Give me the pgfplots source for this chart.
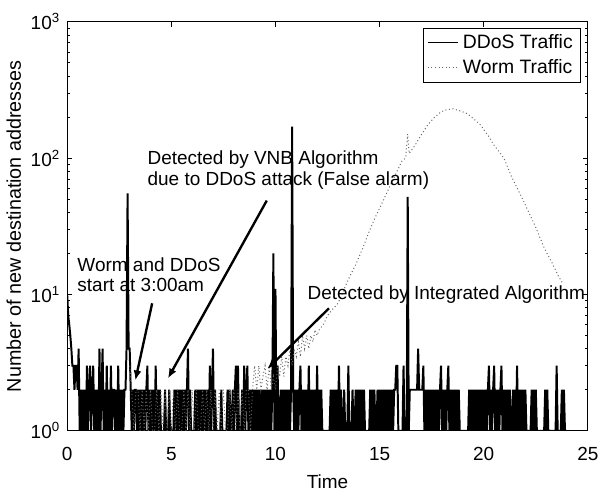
\documentclass[border=0pt]{standalone}
\usepackage{fontspec}
\setmainfont{Liberation Sans}
\usepackage{pgfplots}
\pgfplotsset{compat=1.18}
\usetikzlibrary{arrows.meta, calc}

\newcommand{\lbl}{\fontsize{9.6pt}{11pt}\selectfont}

\begin{document}
\begin{tikzpicture}
\begin{axis}[
  name=ax,
  scale only axis,
  width=263.5pt, height=207pt,
  ymode=log,
  xmin=0, xmax=25, ymin=1, ymax=1000,
  xtick={0,5,10,15,20,25},
  xticklabels={0,5,10,15,20,25},
  ytick={1,10,100,1000},
  yticklabels={10\textsuperscript{0},10\textsuperscript{1},10\textsuperscript{2},10\textsuperscript{3}},
  minor ytick={2,3,4,5,6,7,8,9,20,30,40,50,60,70,80,90,200,300,400,500,600,700,800,900},
  tick align=inside,
  major tick length=2.5pt,
  minor tick length=1.5pt,
  every tick/.append style={black, line width=0.4pt},
  axis line style={line width=0.5pt},
  tick label style={font=\lbl},
  xticklabel style={yshift=-5pt},
  label style={font=\lbl},
  xlabel={Time},
  ylabel={Number of new destination addresses},
  ylabel style={font=\fontsize{10pt}{12pt}\selectfont},
  ylabel shift=-2pt,
  legend style={at={(rel axis cs:0.987,0.985)}, anchor=north east,
    draw=black, line width=0.5pt, font=\fontsize{9.8pt}{11pt}\selectfont, inner xsep=2pt, inner ysep=1pt},
  legend cell align=left,
  legend image code/.code={\draw[#1, line width=0.5pt] (0pt,0pt) -- (15.5pt,0pt);},
]

% DDoS traffic
\addplot[black, line width=1pt] coordinates {
(0,10) (0.05,7) (0.1,6) (0.15,5) (0.2,4) (0.25,3) (0.3,3) (0.35,2) (0.4,3) (0.45,3)
(0.5,2) (0.55,4) (0.6,1) (0.65,2) (0.7,1) (0.75,2) (0.8,1) (0.85,2) (0.9,1) (0.95,3)
(1,1) (1.05,2) (1.1,3) (1.15,1) (1.2,2) (1.25,3) (1.3,1) (1.35,2) (1.4,1) (1.45,2)
(1.5,1) (1.55,4) (1.6,1) (1.65,2) (1.7,4) (1.75,1) (1.8,2) (1.85,1) (1.9,3) (1.95,1)
(2,2) (2.05,1) (2.1,3) (2.15,1) (2.2,2) (2.25,2) (2.3,1) (2.35,2) (2.4,1) (2.45,3)
(2.5,1) (2.55,2) (2.6,1) (2.65,2) (2.7,1) (2.75,2) (2.8,2) (2.85,4) (2.9,55) (2.95,4)
(3,4) (3.05,2) (3.1,1) (3.15,2) (3.2,1) (3.25,2) (3.3,2) (3.35,1) (3.4,2) (3.45,1)
(3.5,2) (3.55,1) (3.6,2) (3.65,1) (3.7,2) (3.75,1) (3.8,2) (3.85,3) (3.9,1) (3.95,2)
(4,1) (4.05,2) (4.1,1) (4.15,2) (4.2,1) (4.25,3) (4.3,1) (4.35,2) (4.4,1) (4.45,2)
(4.5,1) (4.55,1) (4.6,1) (4.65,1) (4.7,2) (4.75,1) (4.8,1) (4.85,1) (4.9,2) (4.95,1)
(5,1) (5.05,1) (5.1,1) (5.15,2) (5.2,1) (5.25,2) (5.3,1) (5.35,2) (5.4,1) (5.45,2)
(5.5,1) (5.55,2) (5.6,1) (5.65,2) (5.7,1) (5.75,2) (5.8,4) (5.85,1) (5.9,2) (5.95,1)
(6,1) (6.05,1) (6.1,1) (6.15,2) (6.2,1) (6.25,2) (6.3,1) (6.35,2) (6.4,1) (6.45,2)
(6.5,1) (6.55,2) (6.6,1) (6.65,2) (6.7,1) (6.75,2) (6.8,1) (6.85,3) (6.9,1) (6.95,2)
(7,4) (7.05,1) (7.1,2) (7.15,1) (7.2,1) (7.25,1) (7.3,1) (7.35,1) (7.4,2) (7.45,1)
(7.5,1) (7.55,1) (7.6,1) (7.65,1) (7.7,2) (7.75,1) (7.8,2) (7.85,1) (7.9,1) (7.95,2)
(8,1) (8.05,2) (8.1,3) (8.15,1) (8.2,3) (8.25,1) (8.3,1) (8.35,1) (8.4,2) (8.45,1)
(8.5,3) (8.55,1) (8.6,2) (8.65,3) (8.7,1) (8.75,2) (8.8,1) (8.85,2) (8.9,1) (8.95,2)
(9,1) (9.05,2) (9.1,1) (9.15,2) (9.2,1) (9.25,2) (9.3,1) (9.35,2) (9.4,1) (9.45,2)
(9.5,1) (9.55,2) (9.6,1) (9.65,2) (9.7,1) (9.75,2) (9.8,1) (9.85,2) (9.9,20) (9.95,1)
(10,11) (10.05,1) (10.1,3) (10.15,1) (10.2,1) (10.25,2) (10.3,1) (10.35,2) (10.4,1) (10.45,2)
(10.5,1) (10.55,2) (10.6,1) (10.65,2) (10.7,1) (10.75,2) (10.8,170) (10.85,2) (10.9,1) (10.95,2)
(11,1) (11.05,2) (11.1,1) (11.15,2) (11.2,3) (11.25,1) (11.3,2) (11.35,1) (11.4,2) (11.45,1)
(11.5,2) (11.55,1) (11.6,3) (11.65,1) (11.7,2) (11.75,1) (11.8,2) (11.85,1) (11.9,2) (11.95,1)
(12,3) (12.05,1) (12.1,2) (12.15,1) (12.2,2) (12.25,1) (12.3,1) (12.35,1) (12.4,1) (12.45,1)
(12.5,1) (12.55,1) (12.6,1) (12.65,2) (12.7,1) (12.75,2) (12.8,1) (12.85,2) (12.9,1) (12.95,2)
(13,1) (13.05,3) (13.1,1) (13.15,2) (13.2,1) (13.25,1) (13.3,2) (13.35,1) (13.4,1) (13.45,1)
(13.5,3) (13.55,1) (13.6,1) (13.65,1) (13.7,2) (13.75,1) (13.8,1) (13.85,2) (13.9,1) (13.95,2)
(14,1) (14.05,2) (14.1,1) (14.15,2) (14.2,1) (14.25,2) (14.3,1) (14.35,1) (14.4,1) (14.45,1)
(14.5,1) (14.55,2) (14.6,1) (14.65,2) (14.7,1) (14.75,2) (14.8,1) (14.85,1) (14.9,2) (14.95,1)
(15,2) (15.05,1) (15.1,2) (15.15,1) (15.2,2) (15.25,1) (15.3,2) (15.35,1) (15.4,2) (15.45,1)
(15.5,2) (15.55,1) (15.6,2) (15.65,1) (15.7,2) (15.75,2) (15.8,3) (15.85,3) (15.9,1) (15.95,1)
(16,1) (16.05,1) (16.1,1) (16.15,3) (16.2,1) (16.25,1) (16.3,1) (16.35,52) (16.4,1) (16.45,2)
(16.5,2) (16.55,2) (16.6,2) (16.65,2) (16.7,2) (16.75,2) (16.8,2) (16.85,4) (16.9,2) (16.95,2)
(17,2) (17.05,2) (17.1,3) (17.15,1) (17.2,2) (17.25,1) (17.3,2) (17.35,1) (17.4,2) (17.45,1)
(17.5,2) (17.55,1) (17.6,2) (17.65,1) (17.7,2) (17.75,1) (17.8,2) (17.85,1) (17.9,2) (17.95,3)
(18,1) (18.05,2) (18.1,1) (18.15,2) (18.2,1) (18.25,2) (18.3,3) (18.35,1) (18.4,2) (18.45,1)
(18.5,2) (18.55,1) (18.6,2) (18.65,1) (18.7,2) (18.75,1) (18.8,2) (18.85,1) (18.9,1) (18.95,1)
(19,1) (19.05,1) (19.1,1) (19.15,1) (19.2,1) (19.25,1) (19.3,2) (19.35,1) (19.4,2) (19.45,1)
(19.5,2) (19.55,1) (19.6,2) (19.65,1) (19.7,2) (19.75,1) (19.8,2) (19.85,1) (19.9,2) (19.95,1)
(20,2) (20.05,1) (20.1,2) (20.15,1) (20.2,2) (20.25,3) (20.3,1) (20.35,2) (20.4,1) (20.45,2)
(20.5,3) (20.55,1) (20.6,2) (20.65,1) (20.7,2) (20.75,1) (20.8,2) (20.85,3) (20.9,1) (20.95,2)
(21,1) (21.05,2) (21.1,1) (21.15,2) (21.2,1) (21.25,2) (21.3,1) (21.35,1) (21.4,2) (21.45,1)
(21.5,2) (21.55,1) (21.6,3) (21.65,1) (21.7,2) (21.75,1) (21.8,2) (21.85,1) (21.9,2) (21.95,1)
(22,2) (22.05,1) (22.1,1) (22.15,1) (22.2,1) (22.25,1) (22.3,2) (22.35,1) (22.4,2) (22.45,1)
(22.5,2) (22.55,1) (22.6,1) (22.65,1) (22.7,1) (22.75,1) (22.8,1) (22.85,1) (22.9,1) (22.95,2)
(23,1) (23.05,2) (23.1,1) (23.15,1) (23.2,1) (23.25,1) (23.3,1) (23.35,1) (23.4,1) (23.45,1)
(23.5,3) (23.55,1) (23.6,1) (23.65,1) (23.7,1) (23.75,2) (23.8,1) (23.85,2) (23.9,1) (23.95,1)
(24,1)
};
\addlegendentry{DDoS Traffic}

% Worm traffic
\addplot[black!60, line width=0.5pt, dash pattern=on 0.5pt off 1.3pt] coordinates {
(3,3) (3.1,2) (3.2,1) (3.3,2) (3.4,2) (3.5,1) (3.6,2) (3.7,1) (3.8,2) (3.9,1)
(4,2) (4.1,1) (4.2,1) (4.3,2) (4.4,1) (4.5,2) (4.6,1) (4.7,2) (4.8,1) (4.9,2)
(5,1) (5.1,2) (5.2,1) (5.3,2) (5.4,1) (5.5,1) (5.6,2) (5.7,1) (5.8,2) (5.9,1)
(6,2) (6.1,1) (6.2,2) (6.3,1) (6.4,1) (6.5,2) (6.6,1) (6.7,2) (6.8,1) (6.9,2)
(7,1) (7.1,2) (7.2,1) (7.3,2) (7.4,1) (7.5,2) (7.6,1) (7.7,1) (7.8,2) (7.9,1)
(8,2) (8.1,1) (8.2,2) (8.3,1) (8.4,2) (8.5,1) (8.6,2) (8.7,2) (8.8,1) (8.9,2)
(9,3) (9.1,2) (9.2,3) (9.3,2) (9.4,2.5) (9.5,3) (9.6,2) (9.7,3) (9.8,2) (9.9,2.5)
(10,2) (10.1,3) (10.2,2.5) (10.3,3.5) (10.4,2.5) (10.5,3.5) (10.6,3) (10.7,4) (10.8,3) (10.9,4)
(11,3.5) (11.1,4.5) (11.2,3.5) (11.3,5) (11.4,4) (11.5,5) (11.6,4) (11.7,5) (11.8,4.5) (11.9,5.5)
(12,5) (12.1,5.5) (12.3,6) (12.5,7) (12.75,7.8) (13,8.6) (13.25,10.5) (13.5,12.9) (13.85,16.5) (14.2,22)
(14.5,29) (14.8,37) (15.1,46) (15.4,58) (15.75,75) (16.07,95) (16.25,100) (16.35,150) (16.42,108) (16.7,124)
(17,148) (17.3,174) (17.6,197) (17.96,219) (18.2,226) (18.5,230) (18.83,223) (19.2,212) (19.5,195) (19.86,174)
(20.2,147) (20.5,124) (20.97,100) (21.3,75) (21.76,54) (22.1,42) (22.5,31) (22.9,22) (23.3,16.8) (23.6,13.5)
(23.8,12)
};
\addlegendentry{Worm Traffic}

% annotations
\node[anchor=base west, font=\lbl, inner sep=0pt] at (rel axis cs:0.019,0.389) {Worm and DDoS};
\node[anchor=base west, font=\lbl, inner sep=0pt] at (rel axis cs:0.019,0.3406) {start at 3:00am};
\node[anchor=base west, font=\lbl, inner sep=0pt] at (rel axis cs:0.1537,0.6498) {Detected by VNB Algorithm};
\node[anchor=base west, font=\lbl, inner sep=0pt] at (rel axis cs:0.1537,0.599) {due to DDoS attack (False alarm)};
\node[anchor=base west, font=\lbl, inner sep=0pt] at (rel axis cs:0.4611,0.3213) {Detected by Integrated Algorithm};

\draw[line width=1.2pt, -{Latex[length=5pt,width=4pt]}] (rel axis cs:0.1632,0.3116) -- (rel axis cs:0.1309,0.1232);
\draw[line width=1.2pt, -{Latex[length=5pt,width=4pt]}] (rel axis cs:0.3833,0.5628) -- (rel axis cs:0.1935,0.128);
\draw[line width=1.2pt, -{Latex[length=5pt,width=4pt]}] (rel axis cs:0.5028,0.2995) -- (rel axis cs:0.3843,0.151);
\end{axis}
\path ($(ax.south west)+(-34pt,-28.5pt)$) rectangle ($(ax.north east)+(5pt,11pt)$);
\end{tikzpicture}
\end{document}
